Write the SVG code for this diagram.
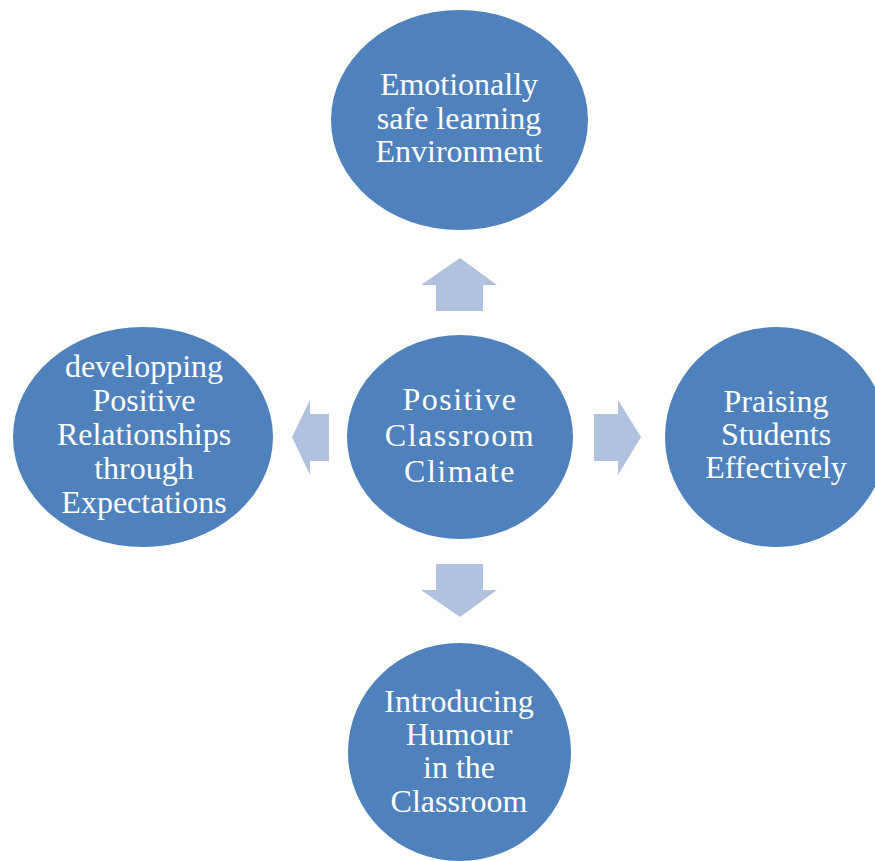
<svg xmlns="http://www.w3.org/2000/svg" width="875" height="861" viewBox="0 0 875 861">
<style>
.node{fill:#4F81BD}
.arrow{fill:#B0C2DD}
text{font-family:"Liberation Serif","Times New Roman",serif;font-size:32px;fill:#FFFFFF;text-anchor:middle}
.wide{letter-spacing:1.5px}
</style>
<rect width="875" height="861" fill="#FFFFFF"/>
<g id="connectors">
<polygon class="arrow" points="460,258 497,285 483,285 483,311 436,311 436,285 421,285"/>
<polygon class="arrow" points="460,617 497,590 483,590 483,564 436,564 436,590 421,590"/>
<polygon class="arrow" points="292,437 310,400 310,414 329,414 329,461 310,461 310,475"/>
<polygon class="arrow" points="641,437 618,400 618,414 594,414 594,461 618,461 618,475"/>
</g>
<g id="top">
<ellipse class="node" cx="459.5" cy="120" rx="128.5" ry="110"/>
<text x="459" y="95">Emotionally</text>
<text x="459" y="129">safe learning</text>
<text x="459" y="162">Environment</text>
</g>
<g id="center">
<ellipse class="node" cx="460" cy="437" rx="113" ry="102"/>
<text class="wide" x="460" y="410">Positive</text>
<text class="wide" x="460" y="446">Classroom</text>
<text class="wide" x="460" y="482">Climate</text>
</g>
<g id="left">
<ellipse class="node" cx="143" cy="437" rx="130" ry="110"/>
<text x="144" y="377">developping</text>
<text x="144" y="411">Positive</text>
<text x="144" y="445">Relationships</text>
<text x="144" y="479">through</text>
<text x="144" y="513">Expectations</text>
</g>
<g id="right">
<ellipse class="node" cx="776" cy="437" rx="111" ry="110"/>
<text x="776" y="412">Praising</text>
<text x="776" y="445">Students</text>
<text x="776" y="478">Effectively</text>
</g>
<g id="bottom">
<ellipse class="node" cx="459.5" cy="752" rx="111.5" ry="109"/>
<text x="459" y="712">Introducing</text>
<text x="459" y="745">Humour</text>
<text x="459" y="778">in the</text>
<text x="459" y="812">Classroom</text>
</g>
</svg>
